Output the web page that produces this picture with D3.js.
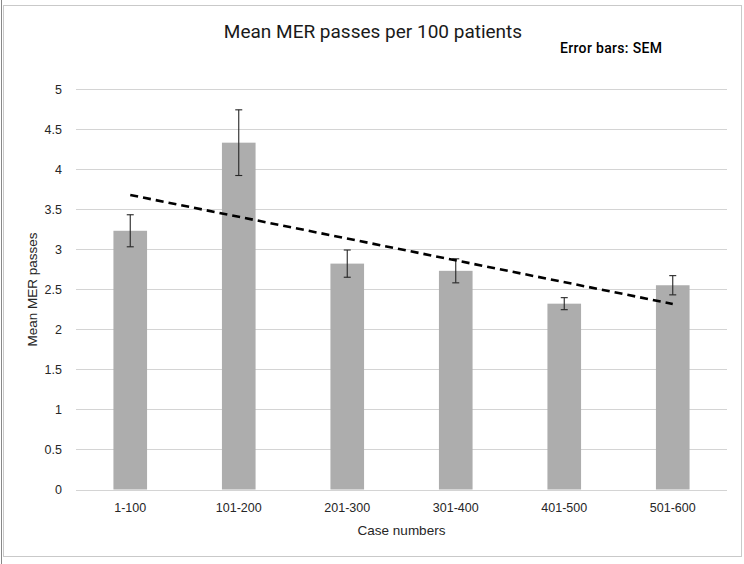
<!DOCTYPE html>
<html>
<head>
<meta charset="utf-8">
<script src="https://cdn.jsdelivr.net/npm/d3@7"></script>
<style>
  body { margin: 0; background: #fff; }
  svg { display: block; }
</style>
</head>
<body>
<svg id="chart"></svg>
<script>
'use strict';

const categories = ["1-100", "101-200", "201-300", "301-400", "401-500", "501-600"];
const means = [3.23, 4.33, 2.82, 2.73, 2.32, 2.55];
const sem = [0.20, 0.41, 0.17, 0.15, 0.075, 0.12];
const yTicks = [0, 0.5, 1, 1.5, 2, 2.5, 3, 3.5, 4, 4.5, 5];

const width = 744;
const height = 564;
const margin = {top: 89, right: 17, bottom: 74, left: 76};

var svg = d3.select("#chart")
    .attr("width", width)
    .attr("height", height);

// frame lines
svg.append("line")
    .attr("x1", 1.5).attr("x2", 1.5)
    .attr("y1", 0).attr("y2", height)
    .attr("stroke", "#888").attr("stroke-width", 1);
svg.append("rect")
    .attr("x", 3.5).attr("y", 5.5)
    .attr("width", 738).attr("height", 551)
    .attr("fill", "none")
    .attr("stroke", "#c9c9c9").attr("stroke-width", 1);

var x = d3.scaleBand()
    .domain(categories)
    .range([margin.left, width - margin.right])
    .paddingInner(0.69)
    .paddingOuter(0.345);

var y = d3.scaleLinear()
    .domain([0, 5])
    .range([height - margin.bottom - 0.5, margin.top]);

// gridlines
svg.append("g")
    .selectAll("line")
    .data(yTicks)
    .enter()
    .append("line")
    .attr("x1", margin.left)
    .attr("x2", width - margin.right)
    .attr("y1", function (d) { return Math.round(y(d)) + 0.5; })
    .attr("y2", function (d) { return Math.round(y(d)) + 0.5; })
    .attr("stroke", "#d4d4d4")
    .attr("stroke-width", 1);

// y tick labels
svg.append("g")
    .selectAll("text")
    .data(yTicks)
    .enter()
    .append("text")
    .attr("x", 62)
    .attr("y", function (d) { return y(d) + 4.5; })
    .attr("text-anchor", "end")
    .attr("font-family", "Liberation Sans, Arial, sans-serif")
    .attr("font-size", 12.5)
    .attr("fill", "#262626")
    .text(function (d) { return d; });

// bars
svg.append("g")
    .selectAll("rect")
    .data(means)
    .enter()
    .append("rect")
    .attr("x", function (d, i) { return x(categories[i]); })
    .attr("y", function (d) { return y(d); })
    .attr("width", x.bandwidth())
    .attr("height", function (d) { return y(0) - y(d); })
    .attr("fill", "#adadad");

// error bars
var err = svg.append("g")
    .attr("stroke", "#262626")
    .attr("stroke-width", 1.1);
means.forEach(function (m, i) {
    var cx = x(categories[i]) + x.bandwidth() / 2;
    var top = y(m + sem[i]);
    var bot = y(m - sem[i]);
    err.append("line").attr("x1", cx).attr("x2", cx).attr("y1", top).attr("y2", bot);
    err.append("line").attr("x1", cx - 3.5).attr("x2", cx + 3.5).attr("y1", top).attr("y2", top);
    err.append("line").attr("x1", cx - 3.5).attr("x2", cx + 3.5).attr("y1", bot).attr("y2", bot);
});

// linear trendline (least squares over category index)
var n = means.length;
var xs = d3.range(1, n + 1);
var mx = d3.mean(xs);
var my = d3.mean(means);
var slope = d3.sum(xs, function (xi, i) { return (xi - mx) * (means[i] - my); }) /
    d3.sum(xs, function (xi) { return (xi - mx) * (xi - mx); });
var intercept = my - slope * mx;
var trend = [1, n].map(function (k) {
    return [x(categories[k - 1]) + x.bandwidth() / 2, y(intercept + slope * k)];
});
svg.append("path")
    .attr("d", d3.line()(trend))
    .attr("fill", "none")
    .attr("stroke", "#000")
    .attr("stroke-width", 2.6)
    .attr("stroke-dasharray", "8,5");

// x tick labels
svg.append("g")
    .selectAll("text")
    .data(categories)
    .enter()
    .append("text")
    .attr("x", function (d) { return x(d) + x.bandwidth() / 2; })
    .attr("y", 512)
    .attr("text-anchor", "middle")
    .attr("font-family", "Liberation Sans, Arial, sans-serif")
    .attr("font-size", 12.5)
    .attr("fill", "#262626")
    .text(function (d) { return d; });

// axis titles
svg.append("text")
    .attr("x", (margin.left + width - margin.right) / 2)
    .attr("y", 535)
    .attr("text-anchor", "middle")
    .attr("font-family", "Liberation Sans, Arial, sans-serif")
    .attr("font-size", 13.5)
    .attr("fill", "#262626")
    .text("Case numbers");

svg.append("text")
    .attr("transform", "translate(37," + ((margin.top + height - margin.bottom) / 2) + ") rotate(-90)")
    .attr("text-anchor", "middle")
    .attr("font-family", "Liberation Sans, Arial, sans-serif")
    .attr("font-size", 13.5)
    .attr("fill", "#262626")
    .text("Mean MER passes");

// title
svg.append("text")
    .attr("x", 373)
    .attr("y", 38)
    .attr("text-anchor", "middle")
    .attr("font-family", "Roboto, sans-serif")
    .attr("font-size", 19)
    .attr("fill", "#1a1a1a")
    .text("Mean MER passes per 100 patients");

svg.append("text")
    .attr("x", 560)
    .attr("y", 53)
    .attr("font-family", "Roboto, sans-serif")
    .attr("font-weight", 500)
    .attr("font-size", 14)
    .attr("textLength", 102)
    .attr("fill", "#000")
    .text("Error bars: SEM");
</script>
</body>
</html>
